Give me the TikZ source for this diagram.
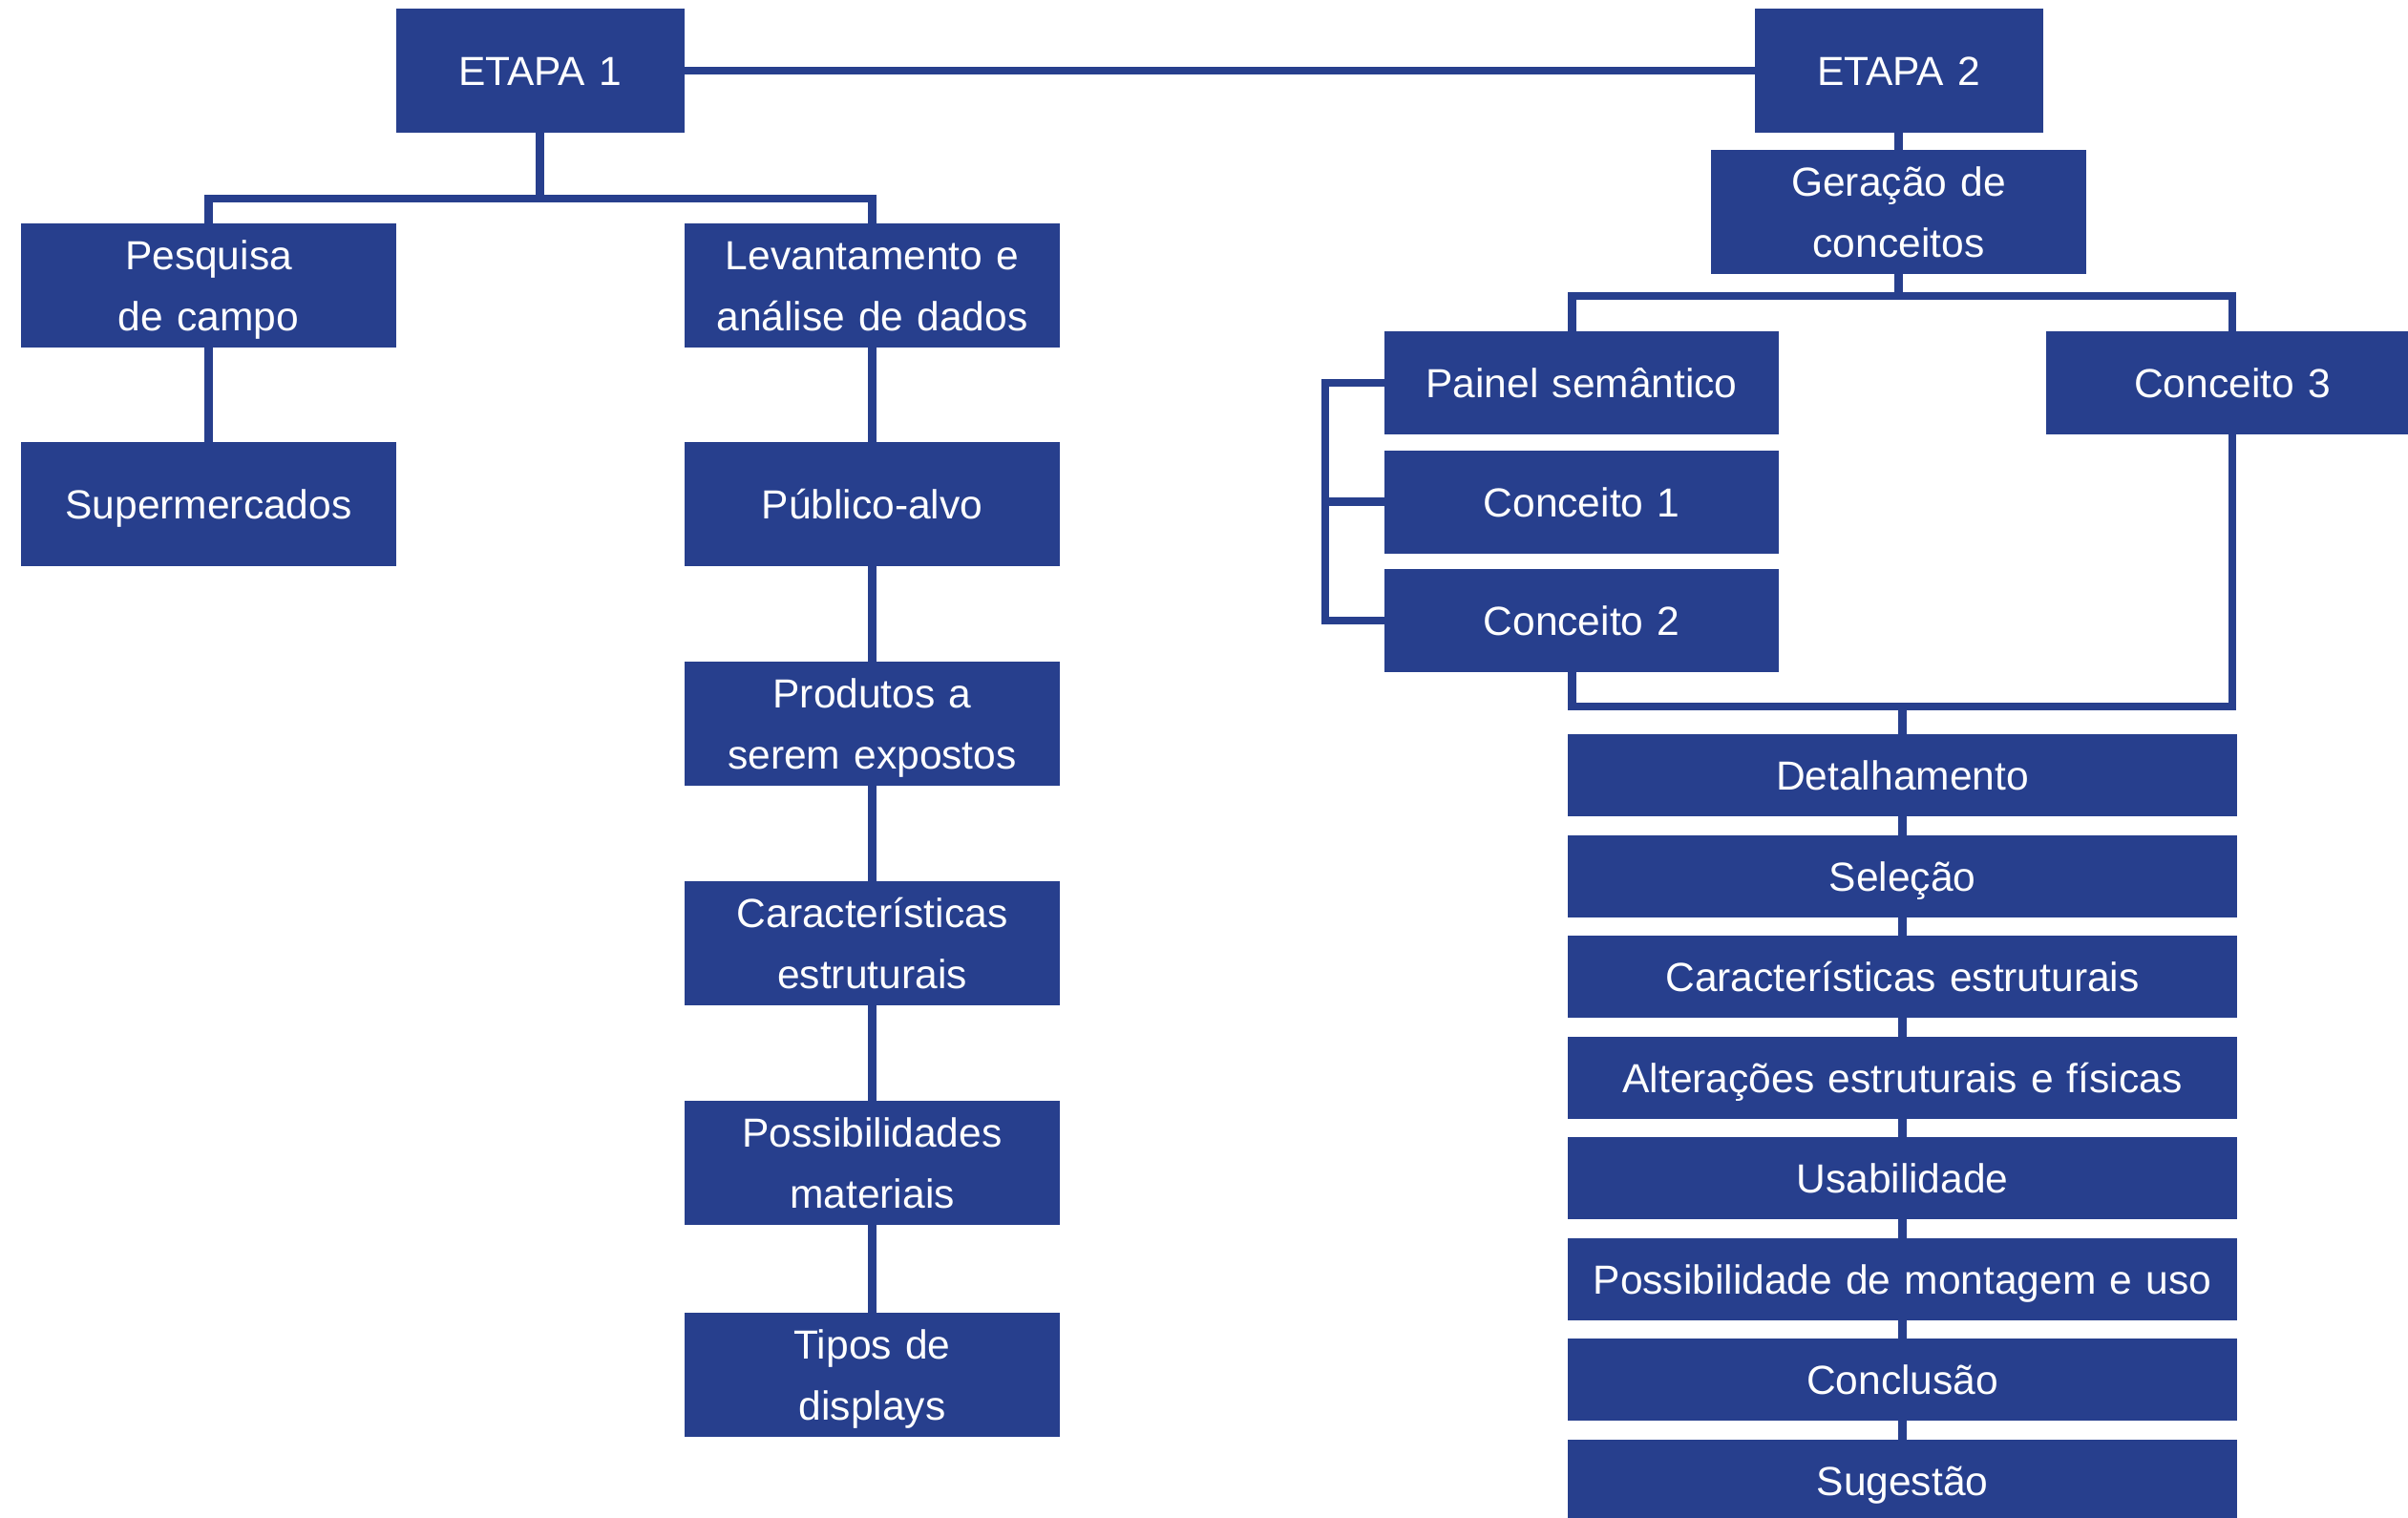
\documentclass[tikz,border=0pt]{standalone}
\usepackage{fontspec}
\setmainfont{Liberation Sans}
\usepackage{tikz}
\usetikzlibrary{positioning}
\definecolor{cNavy}{RGB}{39,63,141}
\newcommand{\lnstrut}{\rule[-4.6pt]{0pt}{18.2pt}}
\tikzset{
	blk/.style ={rectangle, fill=cNavy, text=white, align=center, inner sep=0pt, outer sep=0pt,
		font=\fontsize{12.1pt}{18.2pt}\selectfont, execute at begin node=\lnstrut, execute at end node=\lnstrut},
	link/.style={draw=cNavy, line width=2.3pt},
}

\begin{document}
\begin{tikzpicture}[etp/.style={blk, text width=3.02cm, minimum height=1.30cm},
			col/.style={blk, text width=3.93cm, minimum height=1.30cm},
			cpt/.style={blk, text width=4.13cm, minimum height=1.08cm},
			stp/.style={blk, text width=7.01cm, minimum height=0.86cm}]
	\useasboundingbox (0,0) rectangle (25.22,-15.90);
	% etapa 1
	\node[etp] (e1) at (5.655,-0.74) {ETAPA 1};
	\node[col] (pesq) at (2.185,-2.985) {Pesquisa\\de campo};
	\node[col] (lev) at (9.135,-2.985) {Levantamento e\\análise de dados};
	\node[col, below=0.99cm of pesq] (sup) {Supermercados};
	\node[col, below=0.99cm of lev] (pub) {Público-alvo};
	\node[col, below=1.0cm of pub] (prod) {Produtos a\\serem expostos};
	\node[col, below=1.0cm of prod] (car) {Características\\estruturais};
	\node[col, below=1.0cm of car] (poss) {Possibilidades\\materiais};
	\node[col, below=0.92cm of poss] (tip) {Tipos de\\displays};
	% etapa 2
	\node[etp] (e2) at (19.885,-0.74) {ETAPA 2};
	\node[col, below=0.18cm of e2] (ger) {Geração de\\conceitos};
	\node[cpt] (pain) at (16.565,-4.01) {Painel semântico};
	\node[cpt, below=0.165cm of pain] (c1) {Conceito 1};
	\node[cpt, below=0.165cm of c1] (c2) {Conceito 2};
	\node[cpt, text width=3.90cm] (c3) at (23.38,-4.01) {Conceito 3};
	\node[stp] (det) at (19.925,-8.12) {Detalhamento};
	\node[stp, below=0.195cm of det] (sel) {Seleção};
	\node[stp, below=0.195cm of sel] (car2) {Características estruturais};
	\node[stp, below=0.195cm of car2] (alt) {Alterações estruturais e físicas};
	\node[stp, below=0.195cm of alt] (usa) {Usabilidade};
	\node[stp, below=0.195cm of usa] (pos2) {Possibilidade de montagem e uso};
	\node[stp, below=0.195cm of pos2] (con) {Conclusão};
	\node[stp, below=0.195cm of con] (sug) {Sugestão};
	% ligacoes
	\draw[link] (e1) -- (e2);
	\draw[link] (e1.south) -- ++(0,-0.69) coordinate (b1);
	\draw[link] (pesq.north) |- (b1) -| (lev.north);
	\draw[link] (pesq) -- (sup);
	\draw[link] (lev) -- (pub);
	\draw[link] (pub) -- (prod);
	\draw[link] (prod) -- (car);
	\draw[link] (car) -- (poss);
	\draw[link] (poss) -- (tip);
	\draw[link] (e2) -- (ger);
	\draw[link] (ger.south) -- ++(0,-0.23) coordinate (b2);
	\draw[link] ([xshift=-1mm]pain.north) |- (b2) -| (c3.north);
	\draw[link] (pain.west) -- ++(-0.62,0) coordinate (lb) |- (c2.west);
	\draw[link] (c1.west) -- (c1.west -| lb);
	\draw[link] (det.north) -- ++(0,0.29) coordinate (b3);
	\draw[link] ([xshift=-1mm]c2.south) |- (b3) -| (c3.south);
	\draw[link] (det) -- (sel);
	\draw[link] (sel) -- (car2);
	\draw[link] (car2) -- (alt);
	\draw[link] (alt) -- (usa);
	\draw[link] (usa) -- (pos2);
	\draw[link] (pos2) -- (con);
	\draw[link] (con) -- (sug);
\end{tikzpicture}
\end{document}
